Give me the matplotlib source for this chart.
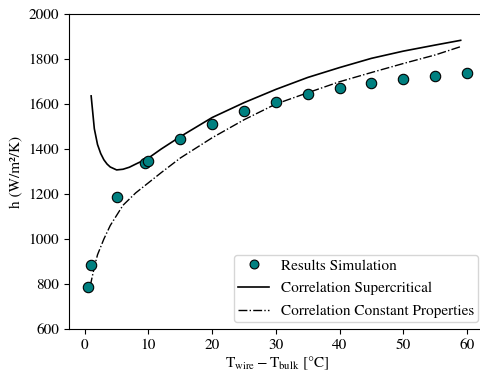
import matplotlib
matplotlib.use("Agg")
import matplotlib.pyplot as plt

plt.rcParams["font.family"] = ["STIXGeneral", "DejaVu Serif"]
plt.rcParams["mathtext.fontset"] = "stix"

# Simulation results
sim_dT = [0.5, 1, 5, 9.5, 10, 15, 20, 25, 30, 35, 40, 45, 50, 55, 60]
sim_h = [787, 884, 1188, 1336, 1347, 1443, 1513, 1569, 1609, 1643, 1673, 1695, 1710, 1724, 1736]

# Supercritical correlation
sc_dT = [1, 1.5, 2, 2.5, 3, 3.5, 4, 5, 6, 7, 8, 10, 12, 15, 20, 25, 30, 35, 40, 45, 50, 55, 59]
sc_h = [1636, 1490, 1420, 1380, 1352, 1333, 1320, 1307, 1310, 1319, 1333, 1360, 1400, 1455,
        1540, 1606, 1665, 1718, 1762, 1803, 1835, 1862, 1883]

# Constant-property correlation
cp_dT = [0.8, 1, 1.5, 2, 3, 4, 5, 6, 8, 10, 12, 15, 20, 25, 30, 35, 40, 45, 50, 55, 59]
cp_h = [790, 810, 875, 930, 1000, 1060, 1105, 1150, 1205, 1250, 1295, 1360, 1450, 1530,
        1600, 1650, 1699, 1740, 1780, 1818, 1855]

fig = plt.figure(figsize=(4.81, 3.71), dpi=100)
ax = fig.add_axes([69 / 481, 42 / 371, 417 / 481, 315 / 371])

ax.plot(sim_dT, sim_h, "o", color="teal", markeredgecolor="black", markeredgewidth=0.8,
        markersize=7.5, linestyle="none", label="Results Simulation", zorder=3)
ax.plot(sc_dT, sc_h, "-", color="black", linewidth=1.2, label="Correlation Supercritical")
ax.plot(cp_dT, cp_h, "-.", color="black", linewidth=1.0, label="Correlation Constant Properties")

ax.set_xlim(-2.475, 62.975)
ax.set_ylim(600, 2000)
ax.set_xticks([0, 10, 20, 30, 40, 50, 60])
ax.set_yticks(range(600, 2001, 200))
ax.tick_params(labelsize=11)

ax.set_xlabel(r"$\mathrm{T_{wire} - T_{bulk}}$ [°C]", fontsize=11, labelpad=2)
ax.set_ylabel("h (W/m²/K)", fontsize=11, labelpad=4)

ax.legend(loc="lower right", fontsize=11, bbox_to_anchor=(0.981, 0.022),
          borderaxespad=0, borderpad=0.25, labelspacing=0.6, handlelength=2.0,
          markerscale=0.85)

fig.savefig("out.png", dpi=100)
